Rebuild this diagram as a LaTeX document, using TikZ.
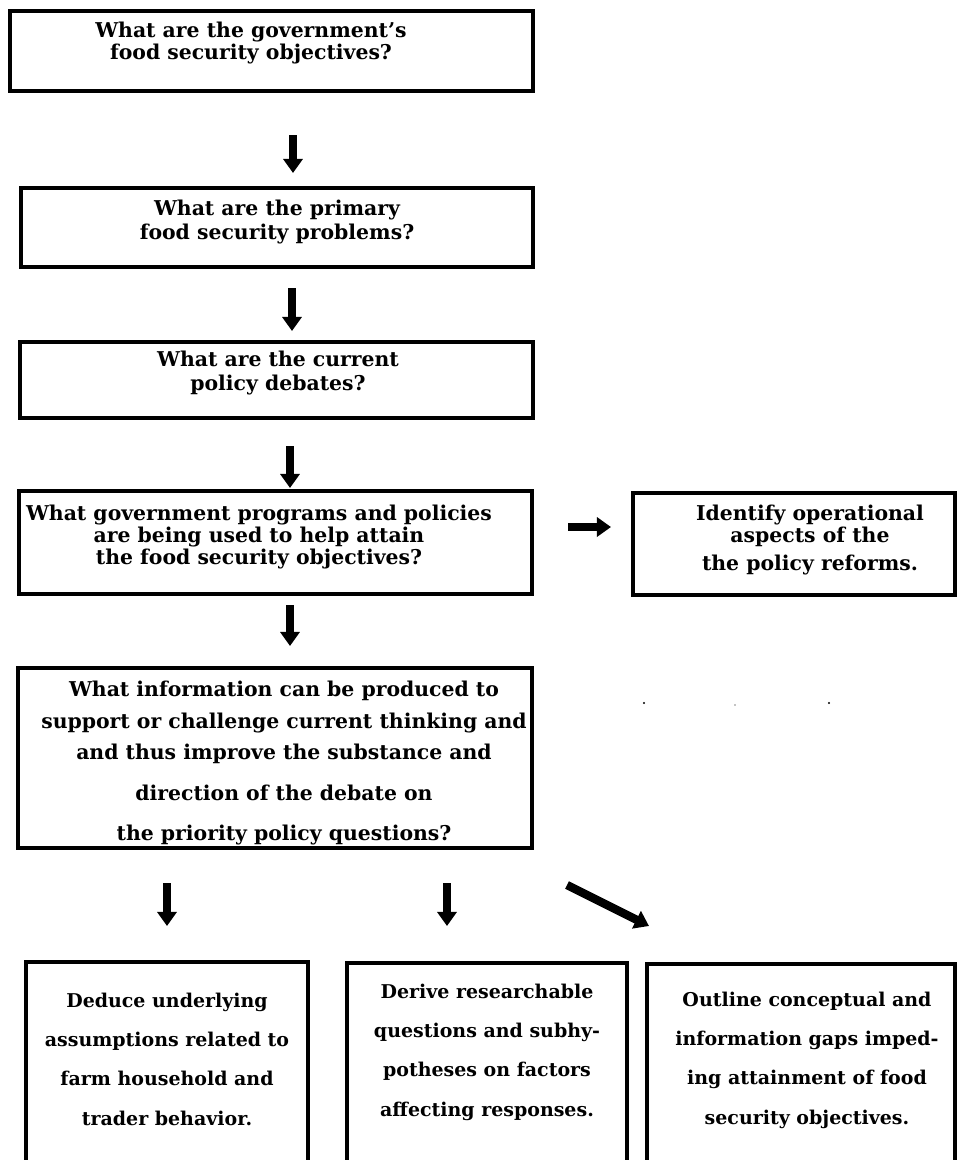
\documentclass[tikz,border=0pt]{standalone}
\usepackage{fontspec}
\setmainfont{DejaVu Serif}
\usetikzlibrary{arrows.meta,fit}
\tikzset{
  qbox/.style={draw, line width=2.4pt, inner sep=0pt},
  qtext/.style={align=center, font=\bfseries\fontsize{14.5}{15.5}\selectfont},
  btext/.style={align=center, font=\bfseries\fontsize{13.5}{15}\selectfont},
  blockarrow/.style={line width=5pt, -{Triangle[length=10pt,width=13.5pt]}},
}

\begin{document}
\begin{tikzpicture}[x=0.025cm, y=-0.025cm]
		\useasboundingbox (0,0) rectangle (956,1160);
		%%%%% START %%%%%
		\node[qbox, fit={(10,11) (533,91)}] (b1) {};
		\node[qtext] (t1) at (251,43) {What are the government’s\\food security objectives?};
		
		\node[qbox, fit={(21,188) (533,267)}] (b2) {};
		\node[qtext] (t2) at (277,222) {What are the primary\\[1.5pt]food security problems?};
		
		\node[qbox, fit={(20,342) (533,418)}] (b3) {};
		\node[qtext] (t3) at (278,373) {What are the current\\[1.5pt]policy debates?};
		
		\node[qbox, fit={(19,491) (532,594)}] (b4) {};
		\node[qtext] (t4) at (259,537) {What government programs and policies\\are being used to help attain\\the food security objectives?};
		
		\node[qbox, fit={(633,493) (955,595)}] (b4r) {};
		\node[qtext] (t4r) at (810,540) {Identify operational\\aspects of the\\[4.5pt]the policy reforms.};
		
		\node[qbox, fit={(18,668) (532,848)}] (b5) {};
		\node[qtext] (t5) at (284,763) {What information can be produced to\\[7pt]support or challenge current thinking and\\[6.5pt]and thus improve the substance and\\[13.5pt]direction of the debate on\\[13pt]the priority policy questions?};
		
		\node[qbox, fit={(26,962) (308,1190)}] (b6) {};
		\node[btext] (t6) at (167,1059) {Deduce underlying\\[13pt]assumptions related to\\[13pt]farm household and\\[13pt]trader behavior.};
		
		\node[qbox, fit={(347,963) (627,1190)}] (b7) {};
		\node[btext] (t7) at (487,1052) {Derive researchable\\[13pt]questions and subhy-\\[13pt]potheses on factors\\[13pt]affecting responses.};
		
		\node[qbox, fit={(647,964) (955,1190)}] (b8) {};
		\node[btext] (t8) at (807,1060) {Outline conceptual and\\[13pt]information gaps imped-\\[13pt]ing attainment of food\\[13pt]security objectives.};
		
		% arrows
		\coordinate (a1s) at (293,135); \coordinate (a1e) at (293,173);
		\coordinate (a2s) at (292,288); \coordinate (a2e) at (292,331);
		\coordinate (a3s) at (290,446); \coordinate (a3e) at (290,488);
		\coordinate (a4s) at (290,605); \coordinate (a4e) at (290,646);
		\coordinate (ars) at (568,527); \coordinate (are) at (611,527);
		\coordinate (a6s) at (167,883); \coordinate (a6e) at (167,926);
		\coordinate (a7s) at (447,883); \coordinate (a7e) at (447,926);
		\coordinate (a8s) at (567,885); \coordinate (a8e) at (649,926);
		\draw[blockarrow] (a1s) -- (a1e);
		\draw[blockarrow] (a2s) -- (a2e);
		\draw[blockarrow] (a3s) -- (a3e);
		\draw[blockarrow] (a4s) -- (a4e);
		\draw[blockarrow] (ars) -- (are);
		\draw[blockarrow] (a6s) -- (a6e);
		\draw[blockarrow] (a7s) -- (a7e);
		\draw[blockarrow, line width=6pt] (a8s) -- (a8e);
		
		\fill (644,703) circle (0.8pt);
		\fill (735,705) circle (0.5pt);
		\fill (829,703) circle (0.8pt);
		%%%%% END %%%%%
	\end{tikzpicture}
\end{document}
